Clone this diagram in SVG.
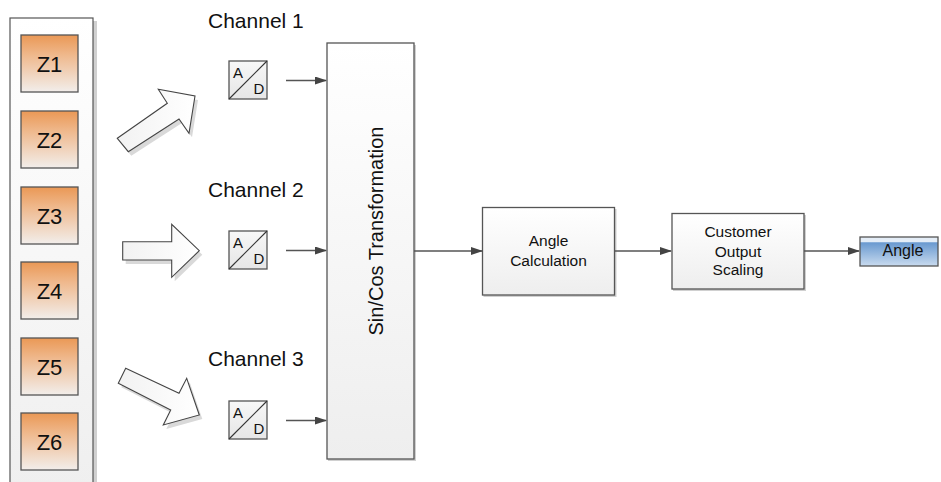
<svg xmlns="http://www.w3.org/2000/svg" width="941" height="482" viewBox="0 0 941 482">
<defs>
<linearGradient id="gPanel" x1="0" y1="0" x2="0" y2="1"><stop offset="0" stop-color="#ffffff"/><stop offset="1" stop-color="#efefef"/></linearGradient>
<linearGradient id="gZ" x1="0" y1="0" x2="0" y2="1"><stop offset="0" stop-color="#ea9855"/><stop offset="0.35" stop-color="#efb88c"/><stop offset="1" stop-color="#f2eeeb"/></linearGradient>
<linearGradient id="gBox" x1="0" y1="0" x2="0" y2="1"><stop offset="0" stop-color="#ffffff"/><stop offset="1" stop-color="#eeeeee"/></linearGradient>
<linearGradient id="gAD" x1="0" y1="0" x2="0" y2="1"><stop offset="0" stop-color="#f7f7f7"/><stop offset="1" stop-color="#e6e6e6"/></linearGradient>
<linearGradient id="gArrow" x1="0" y1="0" x2="1" y2="0"><stop offset="0" stop-color="#f2f2f2"/><stop offset="1" stop-color="#ffffff"/></linearGradient>
<linearGradient id="gBlue" x1="0" y1="0" x2="0" y2="1"><stop offset="0" stop-color="#e4edf7"/><stop offset="0.16" stop-color="#e4edf7"/><stop offset="0.2" stop-color="#6a9ad0"/><stop offset="1" stop-color="#c9dbef"/></linearGradient>
<marker id="ah" markerWidth="12" markerHeight="8" refX="11" refY="4" orient="auto" markerUnits="userSpaceOnUse"><path d="M0,0 L12,4 L0,8 Z" fill="#444"/></marker>
</defs>
<style>
.t{font-family:"Liberation Sans",Arial,sans-serif;fill:#111}
.z{font-size:22px}
.ch{font-size:21px}
.ad{font-size:15px}
.bx{font-size:15.5px}
.node{stroke:#555;stroke-width:1.3}
.sh{fill:#d0d0d0}
.con{stroke:#555;stroke-width:1.3;fill:none;marker-end:url(#ah)}
.big{fill:url(#gArrow);stroke:#444;stroke-width:1.1;stroke-linejoin:miter}
.bigsh{fill:#d9d9d9}
</style>
<rect width="941" height="482" fill="#ffffff"/>

<g id="panel">
<rect x="93" y="21" width="4" height="470" class="sh"/>
<rect x="10" y="18" width="83" height="470" fill="url(#gPanel)" stroke="#555" stroke-width="1.2"/>
</g>
<g id="z1"><rect x="21" y="35" width="57" height="57" fill="url(#gZ)" class="node"/><text x="49.5" y="71.5" class="t z" text-anchor="middle">Z1</text></g>
<g id="z2"><rect x="21" y="111" width="57" height="57" fill="url(#gZ)" class="node"/><text x="49.5" y="147.5" class="t z" text-anchor="middle">Z2</text></g>
<g id="z3"><rect x="21" y="187" width="57" height="57" fill="url(#gZ)" class="node"/><text x="49.5" y="223.5" class="t z" text-anchor="middle">Z3</text></g>
<g id="z4"><rect x="21" y="262" width="57" height="57" fill="url(#gZ)" class="node"/><text x="49.5" y="298.5" class="t z" text-anchor="middle">Z4</text></g>
<g id="z5"><rect x="21" y="338" width="57" height="57" fill="url(#gZ)" class="node"/><text x="49.5" y="374.5" class="t z" text-anchor="middle">Z5</text></g>
<g id="z6"><rect x="21" y="413" width="57" height="57" fill="url(#gZ)" class="node"/><text x="49.5" y="449.5" class="t z" text-anchor="middle">Z6</text></g>

<g id="arrow1">
<polygon transform="translate(3,4)" class="bigsh" points="117.3,138.3 167.3,103.3 158.3,89.3 195,96 189,133.3 179,119 128.3,151.7"/>
<polygon class="big" points="117.3,138.3 167.3,103.3 158.3,89.3 195,96 189,133.3 179,119 128.3,151.7"/>
</g>
<g id="arrow2">
<polygon transform="translate(3,4)" class="bigsh" points="122.7,241.7 171.7,241.7 171.7,224.3 199.3,250.7 171.7,277.3 171.7,260 122.7,260"/>
<polygon class="big" points="122.7,241.7 171.7,241.7 171.7,224.3 199.3,250.7 171.7,277.3 171.7,260 122.7,260"/>
</g>
<g id="arrow3">
<polygon transform="translate(3,4)" class="bigsh" points="125.7,368.3 179,393.3 186.7,378.3 199.3,415 163.3,425 170.7,410 118.3,383.3"/>
<polygon class="big" points="125.7,368.3 179,393.3 186.7,378.3 199.3,415 163.3,425 170.7,410 118.3,383.3"/>
</g>

<g id="labels">
<text x="208" y="28" class="t ch">Channel 1</text>
<text x="208" y="197" class="t ch">Channel 2</text>
<text x="208" y="366" class="t ch">Channel 3</text>
</g>

<g id="ad1">
<rect x="229" y="61" width="38" height="38" fill="url(#gAD)" class="node"/>
<line x1="229" y1="99" x2="267" y2="61" stroke="#333" stroke-width="1.1"/>
<text x="233" y="78" class="t ad">A</text><text x="253.5" y="93.5" class="t ad">D</text>
</g>
<g id="ad2">
<rect x="229" y="231" width="38" height="38" fill="url(#gAD)" class="node"/>
<line x1="229" y1="269" x2="267" y2="231" stroke="#333" stroke-width="1.1"/>
<text x="233" y="248" class="t ad">A</text><text x="253.5" y="263.5" class="t ad">D</text>
</g>
<g id="ad3">
<rect x="229" y="401" width="38" height="38" fill="url(#gAD)" class="node"/>
<line x1="229" y1="439" x2="267" y2="401" stroke="#333" stroke-width="1.1"/>
<text x="233" y="418" class="t ad">A</text><text x="253.5" y="433.5" class="t ad">D</text>
</g>

<g id="sincos">
<rect x="328" y="45" width="88" height="416" class="sh"/>
<rect x="327" y="43" width="87" height="416" fill="url(#gBox)" class="node"/>
<text transform="translate(383,231) rotate(-90)" class="t" font-size="20" text-anchor="middle">Sin/Cos Transformation</text>
</g>

<g id="anglecalc">
<rect x="483.5" y="209" width="133" height="88" class="sh"/>
<rect x="482.5" y="207.5" width="132" height="87.5" fill="url(#gBox)" class="node"/>
<text x="548.5" y="246" class="t bx" text-anchor="middle">Angle</text>
<text x="548.5" y="266" class="t bx" text-anchor="middle">Calculation</text>
</g>

<g id="customer">
<rect x="673" y="215" width="133" height="76" class="sh"/>
<rect x="672" y="213.5" width="132" height="75.5" fill="url(#gBox)" class="node"/>
<text x="738" y="237" class="t bx" text-anchor="middle">Customer</text>
<text x="738" y="256.5" class="t bx" text-anchor="middle">Output</text>
<text x="738" y="275" class="t bx" text-anchor="middle">Scaling</text>
</g>

<g id="angleout">
<rect x="860" y="237" width="78" height="29" fill="url(#gBlue)" class="node"/>
<text x="903" y="256" class="t" font-size="16" text-anchor="middle">Angle</text>
</g>

<g id="connectors">
<line x1="286" y1="80.5" x2="326" y2="80.5" class="con"/>
<line x1="286" y1="250.5" x2="326" y2="250.5" class="con"/>
<line x1="286" y1="420.5" x2="326" y2="420.5" class="con"/>
<line x1="414" y1="251" x2="482" y2="251" class="con"/>
<line x1="615" y1="251" x2="671" y2="251" class="con"/>
<line x1="804" y1="251" x2="859" y2="251" class="con"/>
</g>
</svg>
